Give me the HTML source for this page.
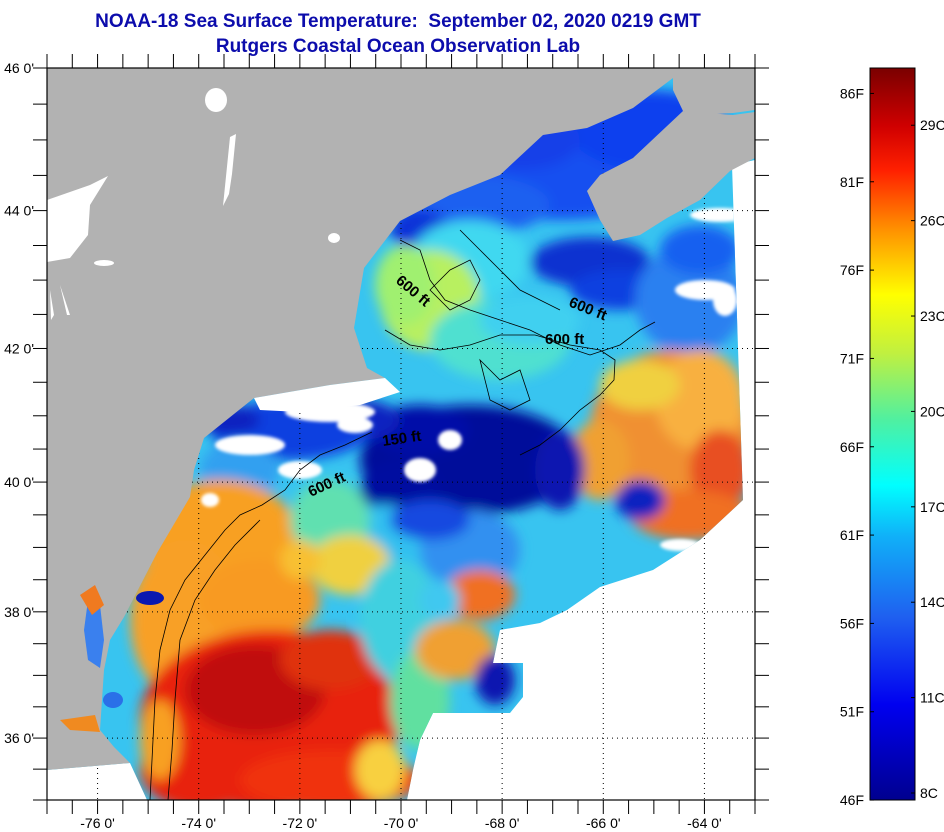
<!DOCTYPE html>
<html><head><meta charset="utf-8">
<style>
html,body{margin:0;padding:0;background:#fff;}
svg{display:block;font-family:"Liberation Sans",Arial,sans-serif;}
</style></head>
<body>
<svg id="chart" width="944" height="832" viewBox="0 0 944 832" xmlns="http://www.w3.org/2000/svg">
<defs>
  <clipPath id="frameClip"><rect x="47" y="68" width="708" height="732"/></clipPath>
  <clipPath id="swathClip"><polygon points="47,68 755,68 755,160 732,165 743,500 700,540 653,570 600,587 567,610 540,623 500,630 493,663 523,663 523,697 510,713 433,713 420,740 413,770 407,800 147,800 130,763 47,770"/></clipPath>
  <filter id="blur" x="-30%" y="-30%" width="160%" height="160%"><feGaussianBlur stdDeviation="6"/></filter>
  <filter id="blur2" x="-30%" y="-30%" width="160%" height="160%"><feGaussianBlur stdDeviation="1.5"/></filter>
  <linearGradient id="cbar" x1="0" y1="1" x2="0" y2="0">
    <stop offset="0" stop-color="#00008f"/>
    <stop offset="0.13" stop-color="#0000f0"/>
    <stop offset="0.25" stop-color="#1f60f0"/>
    <stop offset="0.36" stop-color="#10b0f8"/>
    <stop offset="0.43" stop-color="#00ffff"/>
    <stop offset="0.52" stop-color="#50f0a0"/>
    <stop offset="0.61" stop-color="#c0f040"/>
    <stop offset="0.69" stop-color="#ffff00"/>
    <stop offset="0.78" stop-color="#ff9000"/>
    <stop offset="0.86" stop-color="#ff2000"/>
    <stop offset="0.92" stop-color="#d00000"/>
    <stop offset="1" stop-color="#7a0000"/>
  </linearGradient>
</defs>

<text x="398" y="27" text-anchor="middle" font-size="19" font-weight="bold" fill="#0c0cac">NOAA-18 Sea Surface Temperature:&#160; September 02, 2020 0219 GMT</text>
<text x="398" y="52" text-anchor="middle" font-size="19" font-weight="bold" fill="#0c0cac">Rutgers Coastal Ocean Observation Lab</text>

<g clip-path="url(#frameClip)">
  <rect x="47" y="68" width="708" height="732" fill="#ffffff"/>
  <g clip-path="url(#swathClip)">
    <rect x="47" y="68" width="708" height="732" fill="#38c4f0"/>
    <g id="blobs" filter="url(#blur)"></g>
    <g id="nodata" filter="url(#blur2)" fill="#ffffff"></g>
  </g>
  <g id="grid" stroke="#000" stroke-width="1" stroke-dasharray="1,4"></g>
  <g fill="#b2b2b2">
    <polygon points="47,68 673,68 673,78 633,108 587,128 543,135 500,175 450,195 400,221 364,268 354,328 367,368 385,378 330,385 254,398 204,438 194,470 190,497 157,553 124,617 110,640 104,670 100,730 114,747 130,763 47,770"/>
    <polygon points="673,68 755,68 755,110 733,113 700,115 683,111 673,90"/>
    <polygon points="587,191 600,175 633,158 683,111 733,115 755,112 755,158 730,171 700,200 667,218 640,235 613,241 600,220"/>
  </g>
  <g fill="#ffffff">
    <polygon points="47,200 90,185 108,176 90,205 88,235 70,258 47,262"/>
    <ellipse cx="216" cy="100" rx="11" ry="12"/>
    <path d="M230,137 l6,-3 l-4,40 l-3,20 l-6,12 z"/>
    <ellipse cx="104" cy="263" rx="10" ry="3"/>
    <path d="M50,290 l4,25 l-3,5 z M60,285 l10,30 l-3,0 z"/>
    <ellipse cx="334" cy="238" rx="6" ry="5"/>
    <polygon points="254,398 330,385 385,378 400,392 360,405 300,412 260,410"/>
  </g>
  <g>
    <polygon points="88,600 100,605 104,640 100,668 88,660 84,630" fill="#3a80ee"/>
    <polygon points="80,595 95,585 104,605 92,615" fill="#f07a20"/>
    <polygon points="60,720 95,715 100,732 70,730" fill="#f08a20"/>
    <ellipse cx="150" cy="598" rx="14" ry="7" fill="#0a18b0"/>
    <ellipse cx="113" cy="700" rx="10" ry="8" fill="#2a70e8"/>
  </g>
  <g fill="none" stroke="#000" stroke-width="0.8">
    <path d="M150,800 L152,760 L155,700 L160,650 L170,610 L185,580 L205,555 L225,530 L240,515 L262,505 L285,490 L300,470 L320,455 L345,445 L372,432"/>
    <path d="M168,800 L172,750 L175,700 L180,640 L195,600 L215,570 L235,545 L260,520"/>
    <path d="M400,240 L420,250 L430,280 L445,300 L470,310 L500,320 L530,330 L560,345 L590,355 L620,345 L640,330 L655,322"/>
    <path d="M385,330 L410,345 L440,350 L470,345 L500,335 L535,335 L570,345 L600,350 L615,360 L614,380 L600,395 L580,410 L560,430 L540,445 L520,455"/>
    <path d="M460,230 L480,250 L500,270 L520,290 L540,300 L560,310"/>
    <path d="M430,290 L450,270 L470,260 L480,280 L470,300 L450,310 Z"/>
    <path d="M480,360 L500,380 L520,370 L530,400 L510,410 L490,400 Z"/>
  </g>
  <g font-size="15" font-weight="bold" fill="#000">
    <text transform="translate(395,282) rotate(40)">600 ft</text>
    <text transform="translate(568,306) rotate(22)">600 ft</text>
    <text x="545" y="344">600 ft</text>
    <text transform="translate(383,446) rotate(-8)">150 ft</text>
    <text transform="translate(311,497) rotate(-25)">600 ft</text>
  </g>
</g>
<rect x="47" y="68" width="708" height="732" fill="none" stroke="#000" stroke-width="1.2"/>
<g id="axes" stroke="#000" stroke-width="1"></g>
<g id="axisLabels" font-size="14" fill="#000"></g>

<rect x="870" y="68" width="45" height="732" fill="url(#cbar)" stroke="#000" stroke-width="1"/>
<g id="cbTicks" font-size="14" fill="#000"></g>

<script>
const lonTicks = [-76, -74, -72, -70, -68, -66, -64];
const latTicks = [36, 38, 40, 42, 44, 46];
const fTicks = [46, 51, 56, 61, 66, 71, 76, 81, 86];
const cTicks = [8, 11, 14, 17, 20, 23, 26, 29];
const lonMin = -77, lonMax = -63, latMin = 35, latMax = 46;

const NS = 'http://www.w3.org/2000/svg';
const X0 = 47, X1 = 755, Y0 = 68, Y1 = 800;
function merc(lat){ return Math.log(Math.tan(Math.PI/4 + lat*Math.PI/360)); }
function xLon(lon){ return X0 + (lon - lonMin) / (lonMax - lonMin) * (X1 - X0); }
function yLat(lat){ return Y0 + (merc(latMax) - merc(lat)) / (merc(latMax) - merc(latMin)) * (Y1 - Y0); }
const cMin = 7.78, cMax = 30.8;
function yTemp(c){ return Y1 - (c - cMin) / (cMax - cMin) * (Y1 - Y0); }
function mk(tag, attrs, parent){ const e = document.createElementNS(NS, tag); for (const k in attrs) e.setAttribute(k, attrs[k]); parent.appendChild(e); return e; }

// SST blobs: [cx, cy, rx, ry, color]
const blobs = [
 [560,160,150,60,'#1450f0'],[650,130,80,40,'#1040ee'],[470,205,80,30,'#1a60f0'],[520,140,60,30,'#1240e8'],
 [420,230,30,20,'#0a30d8'],[470,260,60,40,'#40d8f0'],[430,300,50,50,'#b8f060'],[405,285,30,40,'#a0f070'],
 [500,340,70,40,'#50e0d0'],[530,320,50,25,'#40d0f0'],
 [590,262,60,25,'#0a30d0'],[620,290,50,20,'#1040e0'],[690,300,55,55,'#2a80f0'],[700,250,40,25,'#1860f0'],
 [670,430,80,80,'#f09030'],[700,400,45,50,'#f8b040'],[640,385,40,25,'#f0d040'],[720,470,30,40,'#e85020'],
 [690,515,60,25,'#f07020'],[640,500,25,20,'#0a20c0'],[600,460,30,40,'#f0a030'],
 [470,460,110,55,'#000a9a'],[420,430,50,25,'#0010a8'],[560,470,25,40,'#0818b0'],[360,420,40,20,'#0a20c0'],
 [400,490,40,30,'#0010a0'],[290,430,80,30,'#1040e0'],[240,470,40,30,'#30a0f0'],[230,420,30,15,'#0a20c0'],
 [380,545,70,40,'#30c0f0'],[470,550,50,40,'#3090f0'],[430,520,40,20,'#1848e0'],
 [220,540,80,60,'#f8a020'],[185,620,55,80,'#f8a028'],[260,600,60,40,'#f89a20'],
 [330,520,40,40,'#60e0b0'],[350,565,40,30,'#f0d040'],[300,560,20,20,'#f8c030'],
 [270,720,130,90,'#e82010'],[255,690,70,45,'#c00808'],[330,660,50,30,'#e03010'],
 [200,770,60,40,'#e82010'],[330,780,90,30,'#f03010'],[160,740,20,40,'#f8a020'],
 [400,620,40,60,'#40d0e0'],[420,700,30,50,'#60e0a0'],[480,595,35,25,'#f07020'],
 [455,650,40,30,'#f0a030'],[495,680,20,25,'#0818b0'],[380,770,25,30,'#f8d040'],[440,600,20,20,'#40c8f0']
];
// No-data patches: [cx, cy, rx, ry]
const holes = [
 [330,412,45,10],[250,445,35,10],[420,470,16,12],[450,440,12,10],[300,470,22,9],
 [720,215,30,7],[705,290,30,10],[725,300,12,16],[680,545,20,6],[210,500,9,7],[355,425,18,8]
];

const bg = document.getElementById('blobs');
blobs.forEach(function(b){
  const e = mk('ellipse', {cx:b[0], cy:b[1], rx:b[2], ry:b[3], fill:b[4]}, bg);
  
  
});
const hg = document.getElementById('nodata');
holes.forEach(function(h){
  const e = mk('ellipse', {cx:h[0], cy:h[1], rx:h[2], ry:h[3]}, hg);
  
  
});

const grid = document.getElementById('grid');
lonTicks.forEach(function(lon){
  const x = xLon(lon);
  const l = mk('line', {x1:x, y1:Y0, x2:x, y2:Y1}, grid);
  
  
});
latTicks.forEach(function(lat){
  const y = yLat(lat);
  const l = mk('line', {x1:X0, y1:y, x2:X1, y2:y}, grid);
  
  
});

const ax = document.getElementById('axes');
for (let lon = lonMin; lon <= lonMax + 0.01; lon += 0.5){
  const x = xLon(lon);
  const t1 = mk('line', {x1:x, y1:Y1, x2:x, y2:Y1+14}, ax);
  
  
  const t2 = mk('line', {x1:x, y1:Y0, x2:x, y2:Y0-14}, ax);
  
  
}
for (let lat = latMin; lat <= latMax + 0.01; lat += 0.5){
  const y = yLat(lat);
  const t1 = mk('line', {x1:X0-14, y1:y, x2:X0, y2:y}, ax);
  
  
  const t2 = mk('line', {x1:X1, y1:y, x2:X1+14, y2:y}, ax);
  
  
}
const al = document.getElementById('axisLabels');
lonTicks.forEach(function(lon){
  const t = mk('text', {x:xLon(lon), y:Y1+28, 'text-anchor':'middle'}, al);
  t.textContent = lon + " 0'";
  
  
});
latTicks.forEach(function(lat){
  const t = mk('text', {x:X0-13, y:yLat(lat)+5, 'text-anchor':'end'}, al);
  t.textContent = lat + " 0'";
  
  
});

const cb = document.getElementById('cbTicks');
fTicks.forEach(function(f){
  const y = yTemp((f - 32) * 5 / 9);
  const l = mk('line', {x1:870, y1:y, x2:874, y2:y, stroke:'#000'}, cb);
  
  
  const t = mk('text', {x:864, y:Math.min(y+5, 806), 'text-anchor':'end'}, cb);
  t.textContent = f + 'F';
  
  
});
cTicks.forEach(function(c){
  const y = yTemp(c);
  const l = mk('line', {x1:911, y1:y, x2:915, y2:y, stroke:'#000'}, cb);
  
  
  const t = mk('text', {x:920, y:Math.min(y+5, 806), 'text-anchor':'start'}, cb);
  t.textContent = c + 'C';
  
  
});
</script>
</svg>
</body></html>
